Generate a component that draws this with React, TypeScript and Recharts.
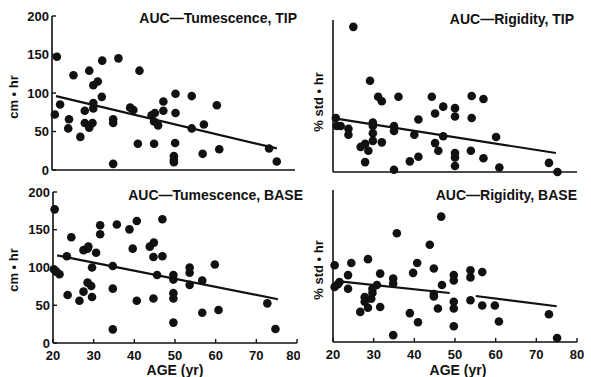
import { ScatterChart, Scatter, XAxis, YAxis, ReferenceLine } from 'recharts';

const ageTicks = [20, 30, 40, 50, 60, 70, 80];
const valueTicks = [0, 50, 100, 150, 200];

// [age (yr), value]
const tumescenceTip = [
  [21.2, 147], [20.7, 72], [22, 85], [24.2, 66], [24, 54], [25.3, 123], [27, 43],
  [28.1, 77], [28.1, 61], [29.2, 129], [29.2, 55], [30, 61], [30.2, 110], [31.3, 115],
  [30.2, 87], [30.2, 80], [32.3, 95], [32.4, 142], [35.1, 66], [35.1, 61], [35.1, 8],
  [36.4, 145], [39.3, 81], [40.1, 78], [41.6, 129], [41.2, 34], [44.6, 71], [45.4, 74],
  [45.2, 63], [46.2, 58], [47.5, 89], [47.5, 77], [45.2, 34], [50.5, 99], [50.5, 74],
  [50.4, 35], [50.1, 18], [50.1, 13], [50.1, 10], [54.5, 96], [54.5, 54], [57.5, 59],
  [57.2, 21], [60.7, 84], [61.3, 27], [73.6, 28], [75.5, 11],
];

const rigidityTip = [
  [25, 191], [20.7, 71], [20.9, 60.5], [21.9, 60.5], [23.8, 57], [23.8, 49], [26.8, 33],
  [27.9, 37], [28.7, 28], [27.9, 13], [29.1, 120], [29.8, 65], [29.8, 60.5], [29.8, 51],
  [29.8, 41], [31.1, 99], [32, 93], [32, 39], [35, 60.5], [35, 54], [35, 3], [36.1, 99],
  [40, 49], [41, 69], [41, 20], [38.9, 14], [44.3, 99], [45.1, 77], [45.1, 38], [45.9, 28],
  [47.1, 86], [47.1, 47], [50, 84], [50, 73], [50, 25], [50, 19], [50, 8], [54.1, 100],
  [54.1, 71], [53.9, 28], [57, 96], [57, 18], [60.1, 46], [60.9, 6], [73.1, 12], [75.2, 0],
];

const tumescenceBase = [
  [20.4, 177], [20.2, 97.6], [20.8, 94.5], [21.6, 91], [23.4, 115], [23.6, 63.6], [24.5, 140],
  [26.5, 56], [27.5, 68], [27.5, 123], [28.5, 125], [28.7, 127.6], [28.5, 80], [29.4, 75.5],
  [29.6, 100], [29.6, 61], [30.6, 119.6], [31.6, 156], [31.6, 144], [34.7, 102], [34.7, 72],
  [34.7, 18], [35.7, 157], [38.8, 150.5], [39.6, 125], [40.6, 161.6], [40.6, 56], [43.8, 127.6],
  [44.8, 133], [44.7, 114], [44.7, 59], [45.6, 90], [46.9, 164], [46.9, 115], [49.6, 90],
  [49.6, 84], [49.6, 66], [49.6, 59], [49.6, 27], [53.6, 100], [53.6, 93], [53.6, 77],
  [56.7, 82.6], [56.7, 40], [59.8, 104], [60.7, 43.7], [72.7, 52.5], [74.7, 18.5],
];

const rigidityBase = [
  [20.4, 101], [20.4, 72.5], [21.2, 76], [21.6, 79], [23.7, 88], [23.7, 70], [24.5, 104],
  [26.7, 39.6], [27.8, 59], [27.8, 53], [28.6, 45], [28.6, 109], [29.4, 57], [29.7, 64.6],
  [29.7, 70], [30.8, 75], [31.6, 90], [31.6, 46], [34.8, 83.5], [34.8, 77], [34.8, 9],
  [35.7, 143], [38.9, 38], [39.7, 91], [40.7, 104], [40.9, 26], [43.8, 128], [44.8, 96.7],
  [44.8, 63], [44.8, 60], [45.8, 44], [46.6, 165], [46.8, 75], [49.7, 88], [49.7, 81],
  [49.7, 53], [49.7, 44], [49.7, 20.7], [53.8, 94.5], [53.8, 85], [53.8, 55], [56.7, 92],
  [56.7, 48], [59.8, 48], [60.8, 27], [73.1, 36.5], [75.1, 5.3],
];

// regression line end points [[age, value], [age, value]]
const tumescenceTipLine = [[[21, 96], [75.5, 28]]];
const rigidityTipLine = [[[20, 71], [74.8, 25]]];
const tumescenceBaseLine = [[[21, 116], [75.3, 58]]];
const rigidityBaseLine = [[[21, 80], [48.7, 64.5]], [[55.1, 60.5], [75, 47]]];

const ink = '#111';
const font = '"Liberation Sans", Arial, sans-serif';

const Dot = (props: any) => <circle cx={props.cx} cy={props.cy} r={4.3} fill={ink} />;

interface PanelProps {
  left: number;
  top: number;
  width: number;
  height: number;
  plot: { x1: number; x2: number; y1: number; y2: number };
  points: number[][];
  lines: number[][][];
  yLabels: boolean;
  xLabels: boolean;
}

function Panel({ left, top, width, height, plot, points, lines, yLabels, xLabels }: PanelProps) {
  const data = points.map(([age, value]) => ({ age, value }));
  return (
    <div style={{ position: 'absolute', left, top }}>
      <ScatterChart
        width={width}
        height={height}
        margin={{ top: plot.y1 - top, right: left + width - plot.x2, left: 0, bottom: 0 }}
      >
        <XAxis
          type="number"
          dataKey="age"
          domain={[20, 80]}
          ticks={ageTicks}
          height={top + height - plot.y2}
          axisLine={{ stroke: ink, strokeWidth: 1.6 }}
          tickLine={{ stroke: ink, strokeWidth: 1.4 }}
          tickSize={-4}
          tickMargin={12}
          tick={xLabels ? { fontSize: 13, fontWeight: 700, fill: ink, fontFamily: font } : false}
        />
        <YAxis
          type="number"
          dataKey="value"
          domain={[0, 200]}
          ticks={valueTicks}
          width={plot.x1 - left}
          axisLine={{ stroke: ink, strokeWidth: 1.6 }}
          tickLine={{ stroke: ink, strokeWidth: 1.4 }}
          tickSize={-4}
          tickMargin={7}
          tick={yLabels ? { fontSize: 13, fontWeight: 700, fill: ink, fontFamily: font } : false}
        />
        {lines.map((seg, i) => (
          <ReferenceLine
            key={i}
            segment={[{ x: seg[0][0], y: seg[0][1] }, { x: seg[1][0], y: seg[1][1] }]}
            stroke={ink}
            strokeWidth={2.2}
            ifOverflow="visible"
          />
        ))}
        <Scatter data={data} shape={Dot} isAnimationActive={false} />
      </ScatterChart>
    </div>
  );
}

export default function App() {
  const textStyle = { fontFamily: font, fontWeight: 700, fill: ink } as const;
  return (
    <div style={{ position: 'absolute', left: 0, top: 0, width: 591, height: 377, background: '#fff' }}>
      <Panel left={0} top={0} width={300} height={182} plot={{ x1: 52, x2: 295, y1: 16, y2: 170 }}
        points={tumescenceTip} lines={tumescenceTipLine} yLabels xLabels={false} />
      <Panel left={300} top={0} width={291} height={182} plot={{ x1: 333, x2: 577, y1: 20, y2: 172 }}
        points={rigidityTip} lines={rigidityTipLine} yLabels={false} xLabels={false} />
      <Panel left={0} top={182} width={300} height={195} plot={{ x1: 53, x2: 297, y1: 192, y2: 343 }}
        points={tumescenceBase} lines={tumescenceBaseLine} yLabels xLabels />
      <Panel left={300} top={182} width={291} height={195} plot={{ x1: 333, x2: 577, y1: 190, y2: 342 }}
        points={rigidityBase} lines={rigidityBaseLine} yLabels={false} xLabels />
      <svg width={591} height={377} style={{ position: 'absolute', left: 0, top: 0, pointerEvents: 'none' }}>
        <text x={297} y={23} textAnchor="end" fontSize={14} {...textStyle}>AUC—Tumescence, TIP</text>
        <text x={574} y={24} textAnchor="end" fontSize={14} {...textStyle}>AUC—Rigidity, TIP</text>
        <text x={303} y={200} textAnchor="end" fontSize={14} {...textStyle}>AUC—Tumescence, BASE</text>
        <text x={577} y={200} textAnchor="end" fontSize={14} {...textStyle}>AUC—Rigidity, BASE</text>
        <text transform="translate(18,97) rotate(-90)" textAnchor="middle" fontSize={13} {...textStyle}>cm • hr</text>
        <text transform="translate(18,270) rotate(-90)" textAnchor="middle" fontSize={13} {...textStyle}>cm • hr</text>
        <text transform="translate(323,102) rotate(-90)" textAnchor="middle" fontSize={13} {...textStyle}>% std • hr</text>
        <text transform="translate(323,270) rotate(-90)" textAnchor="middle" fontSize={13} {...textStyle}>% std • hr</text>
        <text x={175} y={375} textAnchor="middle" fontSize={14} {...textStyle}>AGE (yr)</text>
        <text x={458} y={375} textAnchor="middle" fontSize={14} {...textStyle}>AGE (yr)</text>
      </svg>
    </div>
  );
}
